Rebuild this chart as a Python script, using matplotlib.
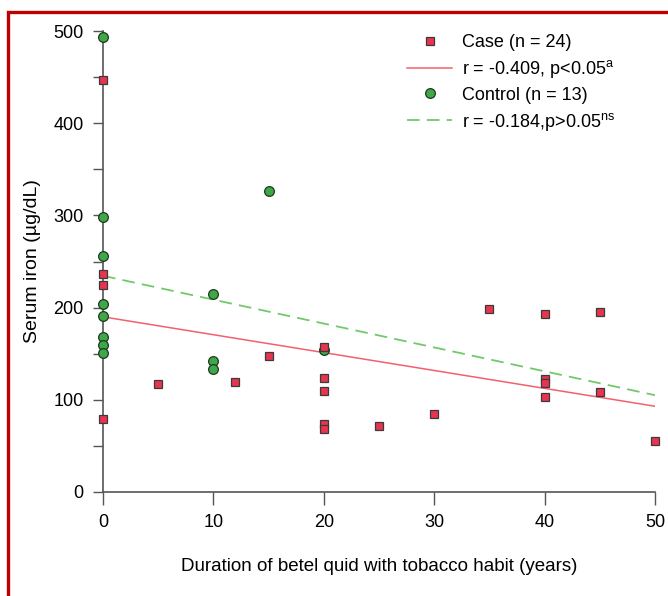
import matplotlib
matplotlib.use("Agg")
import matplotlib.pyplot as plt
from matplotlib.patches import Rectangle

plt.rcParams['font.family'] = ['Liberation Sans', 'DejaVu Sans']
plt.rcParams['mathtext.fontset'] = 'custom'
plt.rcParams['mathtext.rm'] = 'Liberation Sans'

# case group (years of habit, serum iron)
case_years = [0, 0, 0, 0, 5, 12, 15, 20, 20, 20, 20, 20, 25, 30, 35, 40, 40, 40, 40, 45, 45, 50]
case_iron = [447, 236, 224, 79, 117, 119, 148, 157, 124, 110, 74, 68, 72, 85, 198, 193, 123, 118, 103, 195, 108, 55]

# control group
ctrl_years = [0, 0, 0, 0, 0, 0, 0, 0, 10, 10, 10, 15, 20]
ctrl_iron = [493, 298, 256, 204, 191, 168, 159, 151, 215, 142, 133, 326, 154]

# regression lines (intercept, slope)
case_fit = (190, -1.94)
ctrl_fit = (234.5, -2.59)
fit_x = [0, 50]

fig = plt.figure(figsize=(6.68, 5.96), dpi=100)
ax = fig.add_axes([103 / 668, 1 - 492 / 596, 552 / 668, 461 / 596])

red_fill = '#e8344f'
green_fill = '#3fa64a'

ax.plot(fit_x, [case_fit[0] + case_fit[1] * x for x in fit_x], color='#f2606e', lw=1.1,
        label='r = -0.409, p<0.05$^{\\mathregular{a}}$', zorder=2)
ax.plot(fit_x, [ctrl_fit[0] + ctrl_fit[1] * x for x in fit_x], color='#72c86a', lw=1.3,
        dashes=(7, 4), label='r = -0.184,p>0.05$^{\\mathregular{ns}}$', zorder=2)

ax.plot(case_years, case_iron, 's', ms=6, mfc=red_fill, mec='#3a3a3a', mew=0.9,
        label='Case (n = 24)', clip_on=False, zorder=4)
ax.plot(ctrl_years, ctrl_iron, 'o', ms=7, mfc=green_fill, mec='#1c3a1c', mew=0.9,
        label='Control (n = 13)', clip_on=False, zorder=3)

ax.set_xlim(0, 50)
ax.set_ylim(0, 500)
ax.set_xticks([0, 10, 20, 30, 40, 50])
ax.set_yticks([0, 100, 200, 300, 400, 500])
ax.set_yticks([50, 150, 250, 350, 450], minor=True)

for s in ['top', 'right']:
    ax.spines[s].set_visible(False)
for s in ['left', 'bottom']:
    ax.spines[s].set_color('#555555')
    ax.spines[s].set_linewidth(1.2)
ax.tick_params(axis='x', length=9, width=1, color='#555555', labelsize=13, pad=7)
ax.tick_params(axis='y', which='both', length=7, width=1, color='#555555', labelsize=13, pad=7)

ax.set_xlabel('Duration of betel quid with tobacco habit (years)', fontsize=13.5, labelpad=19)
ax.set_ylabel('Serum iron (µg/dL)', fontsize=14, labelpad=9)

h, l = ax.get_legend_handles_labels()
order = [2, 0, 3, 1]
ax.legend([h[i] for i in order], [l[i] for i in order], loc='upper left',
          bbox_to_anchor=(407 / 668, 1 - 34 / 596), bbox_transform=fig.transFigure,
          frameon=False, fontsize=13, handlelength=2.5, handletextpad=0.55,
          labelspacing=0.38, borderaxespad=0, borderpad=0)

# red frame around the figure
fig.patches.append(Rectangle((7.5 / 668, -0.05), 1.2, 1 - 12.5 / 596 + 0.05,
                             transform=fig.transFigure, fill=False,
                             edgecolor='#c00000', lw=2.4))

fig.savefig('out.png', dpi=100)
